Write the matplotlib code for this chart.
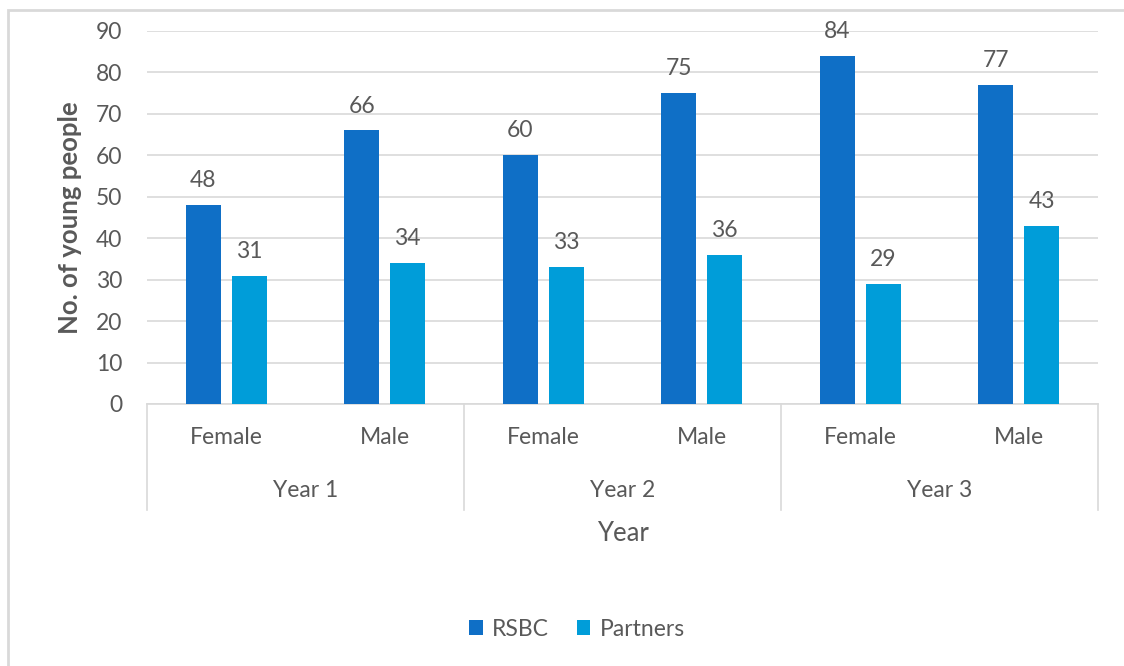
import matplotlib.pyplot as plt
from matplotlib.patches import Rectangle

# young people counts by year and gender
years = ["Year 1", "Year 2", "Year 3"]
genders = ["Female", "Male"]
rsbc = [48, 66, 60, 75, 84, 77]
partners = [31, 34, 33, 36, 29, 43]

plt.rcParams["font.family"] = ["Lato", "DejaVu Sans"]
grey = "#595959"
line_grey = "#D9D9D9"

fig = plt.figure(figsize=(11.24, 6.66), dpi=100)
ax = fig.add_axes([0.1308, 0.3934, 0.8461, 0.5601])

x = list(range(len(rsbc)))
w = 0.22
off = 0.145
b1 = ax.bar([i - off for i in x], rsbc, w, color="#0F6FC6", label="RSBC", zorder=3)
b2 = ax.bar([i + off for i in x], partners, w, color="#009DD9", label="Partners", zorder=3)

for bars, vals in ((b1, rsbc), (b2, partners)):
    for b, v in zip(bars, vals):
        ax.annotate(str(v), (b.get_x() + b.get_width() / 2, v), xytext=(0, 10),
                    textcoords="offset points", ha="center", va="bottom",
                    fontsize=16.5, color=grey)

ax.set_xlim(-0.5, len(rsbc) - 0.5)
ax.set_ylim(0, 90)
ax.set_yticks(range(0, 91, 10))
ax.tick_params(axis="y", length=0, labelsize=16.5, labelcolor=grey, pad=18)
ax.set_xticks([])
ax.grid(axis="y", color=line_grey, linewidth=1.2, zorder=0)
for s in ["top", "right", "left"]:
    ax.spines[s].set_visible(False)
ax.spines["bottom"].set_color(line_grey)
ax.spines["bottom"].set_linewidth(1.2)

# two-level category axis
tr = ax.get_xaxis_transform()
for i in x:
    ax.text(i, -0.091, genders[i % 2], transform=tr, ha="center", va="center",
            fontsize=16.5, color=grey)
for j, yr in enumerate(years):
    ax.text(2 * j + 0.5, -0.233, yr, transform=tr, ha="center", va="center",
            fontsize=16.5, color=grey)
for sx in [-0.5, 1.5, 3.5, 5.5]:
    ax.plot([sx, sx], [0, -0.284], transform=tr, color=line_grey,
            linewidth=1.2, clip_on=False)

ax.text(2.5, -0.346, "Year", transform=tr, ha="center", va="center",
        fontsize=18.5, color=grey)
ax.set_ylabel("No. of young people", fontsize=18.5, color=grey,
              fontweight="bold", labelpad=10)

ax.legend(loc="center", bbox_to_anchor=(577 / 1124, (666 - 629) / 666),
          bbox_transform=fig.transFigure, ncol=2, frameon=False, fontsize=16.5,
          labelcolor=grey, handlelength=0.6, handleheight=0.6,
          handletextpad=0.4, columnspacing=1.2)

fig.patches.append(Rectangle((8 / 1124, -0.01), 1.1, (666 - 10) / 666 + 0.01,
                             transform=fig.transFigure, fill=False,
                             edgecolor=line_grey, linewidth=2))

fig.savefig("out.png", dpi=100)
